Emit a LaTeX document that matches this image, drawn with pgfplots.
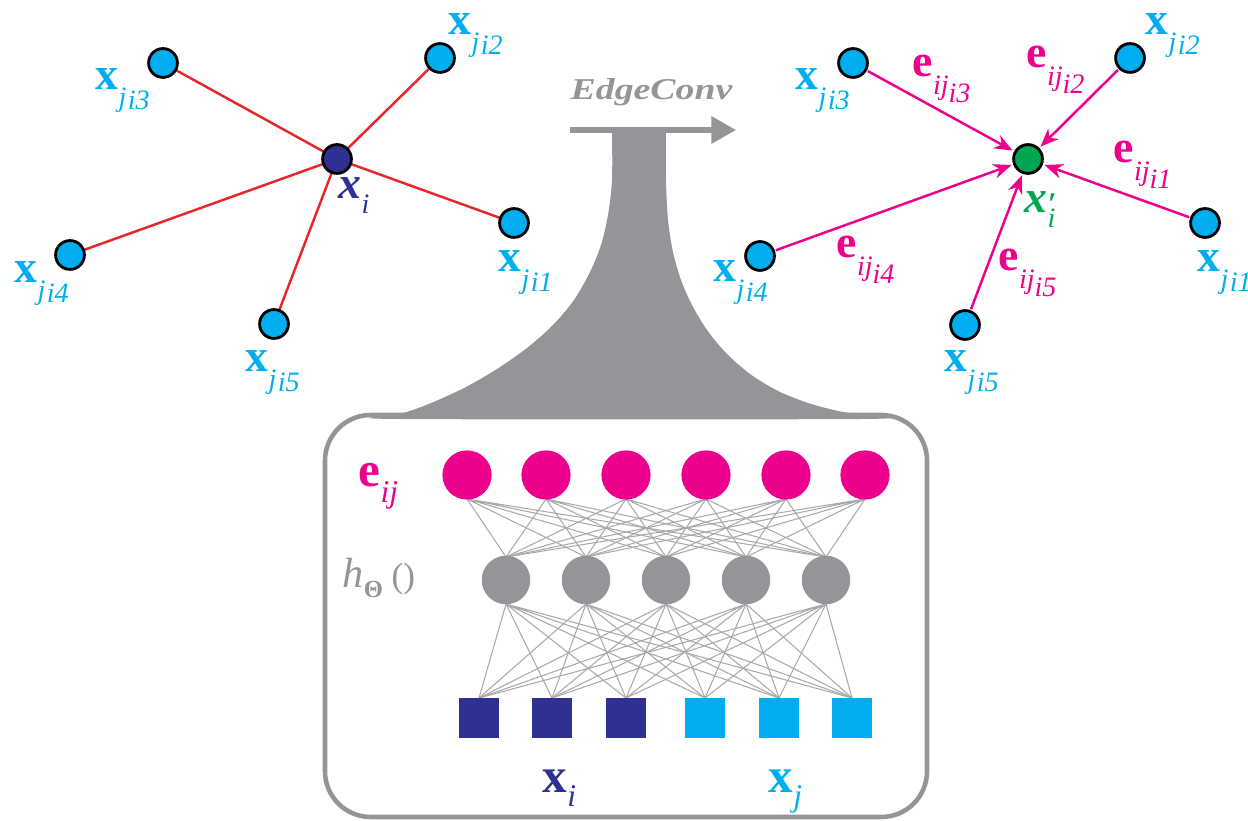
\documentclass[border=0pt]{standalone}
\usepackage{fontspec}
\setmainfont{Liberation Serif}
\usepackage{pgfplots}
\pgfplotsset{compat=1.18}
\usetikzlibrary{arrows.meta}
\definecolor{cyanP}{HTML}{00AEEF}
\definecolor{navy}{HTML}{2E3192}
\definecolor{mag}{HTML}{EC008C}
\definecolor{redL}{HTML}{E8262B}
\definecolor{grn}{HTML}{00A651}
\definecolor{gry}{HTML}{939598}
\definecolor{netg}{HTML}{A7A9AC}
\newcommand{\xsub}[1]{{\fontsize{13}{13}\selectfont\bfseries x}\raisebox{-4.8pt}{\fontsize{8}{8}\selectfont\itshape j\kern0.4pt\raisebox{-0.8pt}{i#1}}}
\newcommand{\esub}[1]{{\fontsize{13}{13}\selectfont\bfseries e}\raisebox{-5pt}{\fontsize{8}{8}\selectfont\itshape ij\raisebox{-2.3pt}{i#1}}}
\begin{document}
\begin{tikzpicture}[lab/.style={inner sep=0pt, anchor=base west}]
\clip (0,0) rectangle (12.48cm,8.21cm);
\begin{axis}[scale only axis, width=12.48cm, height=8.21cm,
  xmin=0, xmax=1248, ymin=0, ymax=821, y dir=reverse, hide axis, clip=false]
% funnel
\addplot[draw=none, fill=gry, smooth, tension=0.5] coordinates {
 (612,128) (612,180) (608,215) (601,245) (590,272) (574,300) (553,325) (527,348)
 (497,369) (466,387) (436,401) (413,410) (398,415) (398,419) (862,419) (862,415)
 (838,411) (808,403) (778,391) (750,374) (726,353) (707,330) (692,305) (681,280)
 (673,252) (668,220) (666,180) (666,128)};
% EdgeConv arrow
\addplot[gry, line width=1.5pt, -{Triangle[length=7pt,width=7.5pt]}] coordinates {(570,130) (736,130)};
% box
\addplot[gry, line width=1.3pt, rounded corners=13pt] coordinates {(626,415) (927,415) (927,817) (325,817) (325,415) (626,415)};
% left graph edges
\addplot[redL, line width=0.7pt] coordinates {(337,159) (163,63)};
\addplot[redL, line width=0.7pt] coordinates {(337,159) (440,58)};
\addplot[redL, line width=0.7pt] coordinates {(337,159) (514,223)};
\addplot[redL, line width=0.7pt] coordinates {(337,159) (70,255)};
\addplot[redL, line width=0.7pt] coordinates {(337,159) (274,324)};
% right graph arrows
\addplot[mag, line width=0.7pt, shorten <=4.8pt, shorten >=5pt, -{Stealth[length=5.2pt,width=4.2pt]}] coordinates {(853,63) (1028,159)};
\addplot[mag, line width=0.7pt, shorten <=4.8pt, shorten >=5pt, -{Stealth[length=5.2pt,width=4.2pt]}] coordinates {(1130,58) (1028,159)};
\addplot[mag, line width=0.7pt, shorten <=4.8pt, shorten >=5pt, -{Stealth[length=5.2pt,width=4.2pt]}] coordinates {(1205,223) (1028,159)};
\addplot[mag, line width=0.7pt, shorten <=4.8pt, shorten >=5pt, -{Stealth[length=5.2pt,width=4.2pt]}] coordinates {(760,256) (1028,159)};
\addplot[mag, line width=0.7pt, shorten <=4.8pt, shorten >=5pt, -{Stealth[length=5.2pt,width=4.2pt]}] coordinates {(965,325) (1028,159)};
% graph nodes
\addplot[only marks, color=black, mark=*, mark size=4.1pt, mark options={fill=cyanP, draw=black, line width=0.8pt}] coordinates {
 (163,63) (440,58) (514,223) (70,255) (274,324)
 (853,63) (1130,58) (1205,223) (760,256) (965,325)};
\addplot[only marks, color=black, mark=*, mark size=4.1pt, mark options={fill=navy, draw=black, line width=0.8pt}] coordinates {(337,159)};
\addplot[only marks, color=black, mark=*, mark size=4.1pt, mark options={fill=grn, draw=black, line width=0.8pt}] coordinates {(1028,159)};
% network connections: output layer to hidden layer
\addplot[netg, line width=0.3pt, line join=round] coordinates {(467,499) (506,557) (467,499) (586,557) (467,499) (666,557) (467,499) (746,557) (467,499) (826,557)};
\addplot[netg, line width=0.3pt, line join=round] coordinates {(546,499) (506,557) (546,499) (586,557) (546,499) (666,557) (546,499) (746,557) (546,499) (826,557)};
\addplot[netg, line width=0.3pt, line join=round] coordinates {(626,499) (506,557) (626,499) (586,557) (626,499) (666,557) (626,499) (746,557) (626,499) (826,557)};
\addplot[netg, line width=0.3pt, line join=round] coordinates {(706,499) (506,557) (706,499) (586,557) (706,499) (666,557) (706,499) (746,557) (706,499) (826,557)};
\addplot[netg, line width=0.3pt, line join=round] coordinates {(786,499) (506,557) (786,499) (586,557) (786,499) (666,557) (786,499) (746,557) (786,499) (826,557)};
\addplot[netg, line width=0.3pt, line join=round] coordinates {(865,499) (506,557) (865,499) (586,557) (865,499) (666,557) (865,499) (746,557) (865,499) (826,557)};
% hidden layer to input layer
\addplot[netg, line width=0.3pt, line join=round] coordinates {(506,604) (479,698) (506,604) (552,698) (506,604) (626,698) (506,604) (705,698) (506,604) (779,698) (506,604) (852,698)};
\addplot[netg, line width=0.3pt, line join=round] coordinates {(586,604) (479,698) (586,604) (552,698) (586,604) (626,698) (586,604) (705,698) (586,604) (779,698) (586,604) (852,698)};
\addplot[netg, line width=0.3pt, line join=round] coordinates {(666,604) (479,698) (666,604) (552,698) (666,604) (626,698) (666,604) (705,698) (666,604) (779,698) (666,604) (852,698)};
\addplot[netg, line width=0.3pt, line join=round] coordinates {(746,604) (479,698) (746,604) (552,698) (746,604) (626,698) (746,604) (705,698) (746,604) (779,698) (746,604) (852,698)};
\addplot[netg, line width=0.3pt, line join=round] coordinates {(826,604) (479,698) (826,604) (552,698) (826,604) (626,698) (826,604) (705,698) (826,604) (779,698) (826,604) (852,698)};
% network nodes
\addplot[only marks, color=mag, mark=*, mark size=6.8pt, mark options={fill=mag, draw=none}] coordinates {(467,475) (546,475) (626,475) (706,475) (786,475) (865,475)};
\addplot[only marks, color=gry, mark=*, mark size=6.7pt, mark options={fill=gry, draw=none}] coordinates {(506,580) (586,580) (666,580) (746,580) (826,580)};
\addplot[only marks, color=navy, mark=square*, mark size=5.6pt, mark options={fill=navy, draw=none}] coordinates {(479,718) (552,718) (626,718)};
\addplot[only marks, color=cyanP, mark=square*, mark size=5.6pt, mark options={fill=cyanP, draw=none}] coordinates {(705,718) (779,718) (852,718)};
% labels left graph
\node[lab, text=cyanP] at (axis cs:95,90) {\xsub{3}};
\node[lab, text=cyanP] at (axis cs:448,35) {\xsub{2}};
\node[lab, text=cyanP] at (axis cs:498,272) {\xsub{1}};
\node[lab, text=cyanP] at (axis cs:14,283) {\xsub{4}};
\node[lab, text=cyanP] at (axis cs:245,372) {\xsub{5}};
\node[lab, text=navy] at (axis cs:338,199) {{\fontsize{13}{13}\selectfont\bfseries\itshape x}\raisebox{-4pt}{\fontsize{8}{8}\selectfont\itshape i}};
% labels right graph
\node[lab, text=cyanP] at (axis cs:795,90) {\xsub{3}};
\node[lab, text=cyanP] at (axis cs:1145,35) {\xsub{2}};
\node[lab, text=cyanP] at (axis cs:1197,272) {\xsub{1}};
\node[lab, text=cyanP] at (axis cs:713,282) {\xsub{4}};
\node[lab, text=cyanP] at (axis cs:944,372) {\xsub{5}};
\node[lab, text=mag] at (axis cs:912,77) {\esub{3}};
\node[lab, text=mag] at (axis cs:1026,68) {\esub{2}};
\node[lab, text=mag] at (axis cs:1113,163) {\esub{1}};
\node[lab, text=mag] at (axis cs:836,258) {\esub{4}};
\node[lab, text=mag] at (axis cs:998,271) {\esub{5}};
\node[lab, text=grn] at (axis cs:1024,213) {{\fontsize{13}{13}\selectfont\bfseries\itshape x}\rlap{\raisebox{-0.3pt}{\fontsize{9}{9}\selectfont\bfseries\itshape ′}}\raisebox{-4pt}{\fontsize{8}{8}\selectfont\itshape i}};
% EdgeConv
\node[lab, text=gry] at (axis cs:570,100) {\scalebox{1.25}[1]{\fontsize{8.6}{8.6}\selectfont\bfseries\itshape EdgeConv}};
% labels in box
\node[lab, text=mag] at (axis cs:358,487) {{\fontsize{14}{14}\selectfont\bfseries e}\raisebox{-4.5pt}{\fontsize{9}{9}\selectfont\itshape ij}};
\node[lab, text=gry] at (axis cs:342,588) {{\fontsize{12}{12}\selectfont\itshape h}\raisebox{-2.8pt}{\fontsize{7}{7}\selectfont\bfseries Θ}\kern2.5pt{\fontsize{10}{10}\selectfont()}};
\node[lab, text=navy] at (axis cs:542,792) {{\fontsize{14}{14}\selectfont\bfseries x}\raisebox{-4pt}{\fontsize{9}{9}\selectfont\itshape i}};
\node[lab, text=cyanP] at (axis cs:768,792) {{\fontsize{14}{14}\selectfont\bfseries x}\raisebox{-4pt}{\fontsize{9}{9}\selectfont\itshape j}};
\end{axis}
\end{tikzpicture}
\end{document}
